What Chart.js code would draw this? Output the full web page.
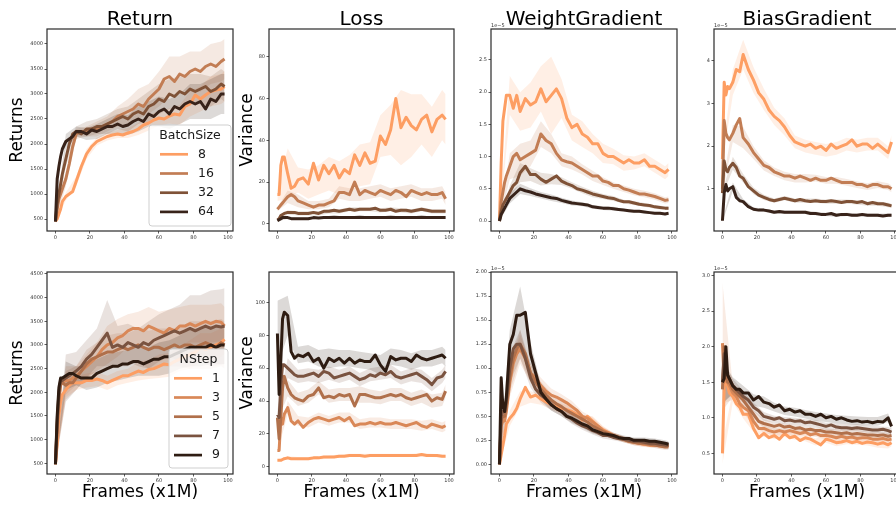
<!DOCTYPE html>
<html>
<head>
<meta charset="utf-8">
<script src="https://cdn.jsdelivr.net/npm/chart.js@4.4.1/dist/chart.umd.min.js"></script>
<style>
  html, body { margin: 0; padding: 0; background: #fff; width: 896px; height: 506px; overflow: hidden; }
  canvas { position: absolute; }
</style>
</head>
<body>
<canvas id="p1" width="229" height="245" style="left:7px;top:0px"></canvas>
<canvas id="p2" width="220" height="245" style="left:237px;top:0px"></canvas>
<canvas id="p3" width="222" height="245" style="left:458px;top:0px"></canvas>
<canvas id="p4" width="222" height="245" style="left:681px;top:0px"></canvas>
<canvas id="p5" width="229" height="253" style="left:7px;top:250px"></canvas>
<canvas id="p6" width="220" height="253" style="left:237px;top:250px"></canvas>
<canvas id="p7" width="222" height="253" style="left:458px;top:250px"></canvas>
<canvas id="p8" width="222" height="253" style="left:681px;top:250px"></canvas>
<script>
// x positions (frames, x1M) of the curves, and of the shaded spread
const frames = [0,1,2,3,4,6,8,10,12,15,18,21,24,27,30,33,36,39,42,45,48,51,54,57,60,63,66,69,72,75,78,81,84,87,90,93,96,98];
const bandFrames = [0,6,12,18,24,30,36,42,48,54,60,66,72,78,84,90,96,98];
const frameTicks = [0,20,40,60,80,100];

const batchSizes = ['8','16','32','64'];
const nSteps = ['1','3','5','7','9'];

// ---- top row: BatchSize ----
const retB8  = [450,500,600,700,850,950,1000,1050,1250,1550,1800,1950,2050,2100,2150,2180,2200,2180,2220,2250,2300,2380,2420,2480,2520,2500,2560,2600,2580,2750,2800,2980,2900,2980,3050,3080,3100,3150];
const retB16 = [450,700,900,1000,1100,1300,1600,1950,2200,2250,2250,2300,2300,2350,2400,2450,2550,2600,2650,2700,2800,2750,2900,3000,3100,3300,3350,3250,3400,3350,3450,3500,3450,3550,3600,3550,3650,3700];
const retB32 = [450,800,1000,1200,1400,1700,2000,2200,2250,2200,2300,2300,2350,2350,2400,2450,2500,2550,2500,2600,2650,2600,2750,2800,2900,2850,3000,2950,3050,3000,3100,3050,3100,3150,3050,3100,3200,3150];
const retB64 = [450,1300,1550,1750,1900,2050,2100,2150,2250,2250,2200,2280,2250,2300,2350,2350,2400,2350,2380,2450,2500,2450,2600,2550,2650,2700,2600,2750,2700,2800,2850,2800,2850,2700,2900,2850,3000,3000];
const retB8Band  = [20,80,100,100,80,80,80,100,120,150,150,150,200,250,250,300,300,300];
const retB16Band = [20,150,100,100,150,150,200,250,300,300,350,400,350,400,400,400,400,400];
const retB32Band = [20,150,100,150,150,200,200,250,250,300,300,300,300,300,300,300,300,300];
const retB64Band = [20,150,100,120,150,150,200,200,250,250,300,300,300,350,350,400,400,400];

const lossB8  = [14,14,28,32,32,24,17,18,21,22,19,29,21,28,24,28,22,26,24,33,28,34,29,30,42,38,45,60,46,51,47,45,50,52,44,50,52,50];
const lossB16 = [7,8,9,10,11,13,14,13,11,10,9,8,9,9,10,11,15,15,14,20,14,16,15,14,16,15,14,16,15,13,16,15,14,15,14,14,15,12];
const lossB32 = [2,2.5,4,4.5,5,5.5,5.5,5.5,5,5,5,5.5,5,6,6,6.5,6,6.5,7,6.5,7,7,7,7.5,6.5,6.5,7,6,6.5,6.5,6,6.5,7,6.5,6,6,6,6];
const lossB64 = [1.5,2,2.5,3,3,3,2.5,2.5,2.5,2.5,2.5,3,2.8,3,3,3.2,3,3,3,3,3.2,3,3,3,3,3,3.2,3,3,3,3,3,3.2,3,3,3,3,3];
const lossB8Band  = [3,12,6,7,7,8,8,9,10,10,10,12,18,15,12,12,12,12];
const lossB16Band = [1,3,3,2,2,2,3,3,3,3,3,3,3,3,3,3,3,3];
const lossB32Band = [0.5,1,1,1,1,1,1,1,1,1,1,1,1,1,1,1,1,1];
const lossB64Band = [0.3,0.5,0.5,0.5,0.5,0.5,0.5,0.5,0.5,0.5,0.5,0.5,0.5,0.5,0.5,0.5,0.5,0.5];

const wgB8  = [0,0.9,1.55,1.75,1.95,1.95,1.75,1.95,1.7,1.9,1.8,1.85,2.05,1.85,1.95,2.05,1.9,1.6,1.45,1.5,1.35,1.3,1.2,1.2,1.05,1.0,1.0,0.95,0.9,0.95,0.9,0.9,0.95,0.85,0.85,0.8,0.75,0.8];
const wgB16 = [0,0.3,0.45,0.6,0.7,0.85,1.0,1.05,0.95,1.0,1.05,1.1,1.35,1.25,1.2,1.05,0.95,0.92,0.9,0.85,0.8,0.75,0.7,0.7,0.62,0.6,0.55,0.55,0.5,0.48,0.45,0.42,0.42,0.4,0.38,0.35,0.32,0.33];
const wgB32 = [0,0.15,0.25,0.3,0.35,0.45,0.55,0.6,0.75,0.85,0.72,0.72,0.65,0.6,0.65,0.7,0.62,0.58,0.55,0.5,0.48,0.45,0.42,0.4,0.38,0.36,0.35,0.32,0.3,0.3,0.28,0.26,0.25,0.24,0.22,0.21,0.2,0.2];
const wgB64 = [0,0.1,0.15,0.2,0.25,0.35,0.4,0.45,0.5,0.47,0.45,0.42,0.4,0.38,0.36,0.35,0.32,0.3,0.28,0.27,0.26,0.25,0.22,0.21,0.2,0.2,0.19,0.18,0.17,0.16,0.15,0.15,0.14,0.13,0.12,0.12,0.11,0.12];
const wgB8Band  = [0,0.3,0.3,0.35,0.35,0.6,0.3,0.2,0.2,0.15,0.15,0.12,0.12,0.1,0.1,0.1,0.1,0.1];
const wgB16Band = [0,0.2,0.25,0.2,0.2,0.15,0.1,0.1,0.08,0.08,0.06,0.05,0.05,0.05,0.05,0.05,0.05,0.05];
const wgB32Band = [0,0.1,0.15,0.1,0.1,0.08,0.06,0.05,0.05,0.05,0.04,0.04,0.03,0.03,0.03,0.03,0.03,0.03];
const wgB64Band = [0,0.08,0.08,0.06,0.05,0.05,0.04,0.04,0.03,0.03,0.03,0.03,0.02,0.02,0.02,0.02,0.02,0.02];

const bgB8  = [1.7,3.5,3.2,3.4,3.35,3.5,3.8,3.75,4.15,3.8,3.55,3.25,3.1,2.85,2.7,2.6,2.45,2.25,2.1,2.05,2.0,2.05,1.95,2.0,1.9,2.05,1.95,2.0,2.05,2.15,2.0,2.05,2.05,1.95,2.05,1.95,1.85,2.1];
const bgB16 = [1.0,2.6,2.3,2.2,2.15,2.3,2.5,2.65,2.2,2.05,1.85,1.7,1.55,1.5,1.4,1.35,1.3,1.3,1.25,1.3,1.25,1.2,1.25,1.2,1.2,1.25,1.2,1.15,1.15,1.15,1.1,1.1,1.05,1.1,1.1,1.05,1.05,1.0];
const bgB32 = [0.9,1.65,1.45,1.4,1.5,1.6,1.5,1.3,1.25,1.05,0.95,0.85,0.8,0.75,0.72,0.75,0.78,0.75,0.72,0.75,0.72,0.7,0.72,0.7,0.7,0.72,0.7,0.68,0.7,0.7,0.68,0.7,0.65,0.68,0.65,0.65,0.62,0.6];
const bgB64 = [0.25,0.9,1.1,0.95,1.0,1.05,0.8,0.72,0.7,0.58,0.52,0.5,0.5,0.48,0.45,0.47,0.45,0.45,0.45,0.45,0.45,0.42,0.42,0.4,0.4,0.42,0.38,0.4,0.4,0.38,0.38,0.4,0.38,0.38,0.38,0.36,0.38,0.38];
const bgB8Band  = [0.1,0.3,0.35,0.3,0.25,0.2,0.2,0.15,0.15,0.15,0.15,0.15,0.15,0.15,0.15,0.15,0.15,0.15];
const bgB16Band = [0.1,0.2,0.25,0.15,0.12,0.1,0.1,0.1,0.1,0.08,0.08,0.08,0.08,0.08,0.08,0.08,0.08,0.08];
const bgB32Band = [0.05,0.15,0.1,0.08,0.06,0.05,0.05,0.05,0.05,0.05,0.05,0.05,0.05,0.05,0.05,0.05,0.05,0.05];
const bgB64Band = [0.03,0.1,0.06,0.04,0.04,0.04,0.04,0.04,0.04,0.04,0.04,0.04,0.04,0.04,0.04,0.04,0.04,0.04];

// ---- bottom row: NStep ----
const retN1 = [480,900,1500,1800,1950,2050,2150,2200,2200,2200,2250,2250,2280,2250,2200,2250,2300,2350,2350,2400,2450,2420,2480,2500,2550,2600,2580,2650,2700,2750,2800,2850,2950,2900,2950,3000,3050,3120];
const retN3 = [480,1200,1800,2150,2200,2250,2250,2300,2350,2450,2550,2650,2750,2900,3000,3050,3150,3200,3300,3350,3350,3300,3400,3350,3300,3250,3350,3300,3400,3400,3450,3400,3450,3500,3450,3500,3480,3400];
const retN5 = [480,1300,1900,2200,2200,2150,2200,2200,2300,2450,2600,2700,2750,2800,2850,2850,2900,2950,2900,2950,3000,2950,2900,2950,2950,2900,2950,3000,2950,3000,3000,2950,3000,3050,3000,2950,3050,3000];
const retN7 = [480,1400,2000,2250,2250,2300,2350,2400,2450,2550,2700,2800,2950,3100,3250,2950,3000,2950,3050,3000,2950,3050,3000,3100,3150,3200,3250,3300,3250,3300,3350,3300,3350,3400,3350,3400,3380,3400];
const retN9 = [480,1500,2100,2300,2300,2350,2400,2400,2350,2300,2300,2300,2400,2450,2500,2550,2550,2600,2600,2650,2650,2600,2650,2700,2700,2750,2750,2800,2850,2900,2950,2950,2950,2950,3000,2950,3000,3000];
const retN1Band = [20,150,150,150,150,150,150,150,200,200,250,250,250,300,300,300,300,300];
const retN3Band = [20,300,200,250,300,400,400,350,350,400,400,400,400,400,400,400,400,400];
const retN5Band = [20,300,250,300,300,350,350,350,350,400,400,400,400,500,500,500,500,500];
const retN7Band = [20,500,400,400,400,700,400,400,400,500,500,500,600,700,700,800,800,800];
const retN9Band = [20,300,200,250,300,300,300,300,300,300,350,350,350,400,400,400,400,400];

const lossN1 = [4,4,4,4.5,5,5.5,5,5,5,5,5,5.5,5.5,6,6,6,6.5,6.5,7,7,7,6.5,7,7,7,7,7,7,7,7,7,7,7.5,7,7,7,6.5,6.5];
const lossN3 = [10,10,30,26,32,36,28,26,28,24,27,29,30,29,28,29,30,28,30,25,26,26,27,26,27,26,26,27,26,25,26,27,25,24,26,25,24,25];
const lossN5 = [30,17,30,48,55,48,44,42,41,40,43,44,48,42,43,42,44,43,44,37,44,44,43,42,42,43,44,43,44,42,41,42,43,44,40,42,41,46];
const lossN7 = [32,30,50,62,62,60,58,56,55,55,56,57,55,58,57,54,55,56,57,55,53,54,56,55,57,56,58,55,54,55,56,57,55,53,50,54,55,58];
const lossN9 = [81,44,65,90,94,92,70,66,68,67,69,64,66,60,66,64,66,63,66,63,65,64,64,68,62,58,67,65,66,66,64,68,66,65,66,67,68,66];
const lossN1Band = [0.5,1,1,1,1,1,1,1,1,1,1,1,1,1,1,1,1,1];
const lossN3Band = [1,4,3,3,3,3,3,3,3,3,3,3,3,3,3,3,3,3];
const lossN5Band = [2,5,4,4,4,4,4,4,5,4,4,4,4,4,4,4,4,4];
const lossN7Band = [3,6,4,4,4,4,4,4,4,4,4,4,4,4,4,4,4,4];
const lossN9Band = [20,12,5,5,5,6,5,5,5,5,6,5,5,5,5,5,5,5];

const wgN1 = [0,0.1,0.2,0.3,0.42,0.48,0.52,0.58,0.68,0.8,0.7,0.72,0.68,0.65,0.62,0.6,0.58,0.57,0.55,0.52,0.46,0.5,0.45,0.4,0.36,0.33,0.3,0.28,0.26,0.25,0.23,0.22,0.21,0.2,0.2,0.19,0.19,0.2];
const wgN3 = [0,0.4,0.45,0.45,0.55,0.85,1.05,1.15,1.2,1.1,0.95,0.9,0.82,0.76,0.72,0.7,0.67,0.64,0.6,0.56,0.5,0.48,0.44,0.4,0.35,0.33,0.3,0.28,0.26,0.24,0.23,0.22,0.21,0.2,0.2,0.2,0.19,0.2];
const wgN5 = [0,0.45,0.5,0.5,0.6,0.9,1.1,1.2,1.25,1.15,0.95,0.85,0.78,0.72,0.67,0.63,0.6,0.56,0.53,0.5,0.47,0.44,0.4,0.37,0.34,0.32,0.3,0.28,0.26,0.24,0.23,0.22,0.22,0.21,0.2,0.19,0.18,0.18];
const wgN7 = [0,0.5,0.55,0.55,0.65,1.0,1.2,1.25,1.25,1.1,0.9,0.78,0.72,0.68,0.62,0.58,0.55,0.5,0.47,0.43,0.4,0.38,0.35,0.33,0.3,0.3,0.28,0.27,0.26,0.25,0.24,0.24,0.23,0.22,0.22,0.21,0.2,0.2];
const wgN9 = [0,0.9,0.6,0.55,0.7,1.25,1.35,1.55,1.55,1.58,1.15,0.95,0.75,0.68,0.62,0.58,0.55,0.5,0.48,0.45,0.42,0.4,0.36,0.34,0.32,0.31,0.3,0.28,0.27,0.27,0.25,0.25,0.25,0.24,0.24,0.23,0.22,0.21];
const wgN1Band = [0,0.08,0.08,0.06,0.06,0.05,0.05,0.05,0.05,0.05,0.04,0.03,0.03,0.03,0.03,0.02,0.02,0.02];
const wgN3Band = [0,0.15,0.15,0.1,0.08,0.07,0.06,0.06,0.05,0.05,0.04,0.03,0.03,0.03,0.03,0.03,0.03,0.03];
const wgN5Band = [0,0.15,0.15,0.1,0.08,0.07,0.06,0.06,0.05,0.05,0.04,0.03,0.03,0.03,0.03,0.03,0.03,0.03];
const wgN7Band = [0,0.15,0.15,0.1,0.08,0.06,0.05,0.05,0.04,0.04,0.03,0.03,0.03,0.03,0.03,0.03,0.03,0.03];
const wgN9Band = [0,0.15,0.3,0.12,0.08,0.06,0.05,0.05,0.04,0.04,0.03,0.03,0.03,0.03,0.03,0.03,0.03,0.03];

const bgN1 = [0.5,1.45,1.5,1.45,1.35,1.3,1.2,1.15,1.05,1.05,0.85,0.72,0.78,0.72,0.75,0.7,0.78,0.72,0.74,0.68,0.72,0.7,0.66,0.62,0.7,0.68,0.65,0.66,0.68,0.65,0.67,0.64,0.66,0.65,0.63,0.65,0.62,0.65];
const bgN3 = [2.05,1.5,1.6,1.5,1.45,1.35,1.3,1.2,1.15,1.1,0.95,0.85,0.85,0.82,0.8,0.82,0.8,0.82,0.8,0.78,0.8,0.76,0.78,0.75,0.75,0.74,0.72,0.74,0.72,0.73,0.71,0.72,0.72,0.7,0.7,0.71,0.69,0.7];
const bgN5 = [1.4,2.0,1.6,1.5,1.5,1.4,1.35,1.3,1.25,1.15,1.05,0.95,0.92,0.9,0.88,0.9,0.87,0.88,0.85,0.86,0.83,0.84,0.82,0.82,0.8,0.8,0.79,0.78,0.79,0.77,0.78,0.77,0.76,0.76,0.75,0.76,0.74,0.75];
const bgN7 = [1.5,1.9,1.7,1.6,1.55,1.45,1.4,1.35,1.3,1.25,1.15,1.1,1.02,1.0,0.98,1.0,0.96,0.97,0.95,0.96,0.93,0.94,0.92,0.9,0.88,0.9,0.87,0.86,0.86,0.85,0.86,0.85,0.84,0.83,0.83,0.84,0.82,0.8];
const bgN9 = [1.5,1.55,2.0,1.6,1.55,1.45,1.4,1.4,1.35,1.35,1.25,1.3,1.22,1.2,1.15,1.18,1.1,1.12,1.08,1.1,1.05,1.05,1.02,1.05,1.0,1.02,0.98,1.0,0.97,0.95,0.96,0.94,0.95,0.93,0.95,0.94,1.0,0.88];
const bgN1Band = [0.15,0.08,0.06,0.05,0.05,0.05,0.05,0.05,0.05,0.05,0.05,0.05,0.05,0.05,0.05,0.05,0.05,0.05];
const bgN3Band = [0.85,0.1,0.08,0.06,0.06,0.05,0.05,0.05,0.05,0.05,0.05,0.05,0.05,0.05,0.05,0.05,0.05,0.05];
const bgN5Band = [0.3,0.1,0.08,0.06,0.06,0.05,0.05,0.05,0.05,0.05,0.05,0.05,0.05,0.05,0.05,0.05,0.05,0.05];
const bgN7Band = [0.3,0.1,0.08,0.06,0.06,0.05,0.05,0.05,0.05,0.05,0.05,0.05,0.05,0.05,0.05,0.05,0.05,0.05];
const bgN9Band = [0.3,0.12,0.1,0.08,0.08,0.06,0.06,0.06,0.06,0.06,0.06,0.06,0.06,0.06,0.06,0.06,0.06,0.06];

// y tick labels
const retTicksTop = [500,1000,1500,2000,2500,3000,3500,4000];
const lossTicksTop = [0,20,40,60,80];
const wgTicksTop = [0,0.5,1,1.5,2,2.5];
const bgTicksTop = [1,2,3,4];
const retTicksBottom = [500,1000,1500,2000,2500,3000,3500,4000,4500];
const lossTicksBottom = [0,20,40,60,80,100];
const wgTicksBottom = [0,0.25,0.5,0.75,1,1.25,1.5,1.75,2];
const bgTicksBottom = [0.5,1,1.5,2,2.5,3];

// styles
const FONT = 'DejaVu Sans';
const batchColors = ['#fd9e63', '#c27d54', '#7f5237', '#38231a'];
const nstepColors = ['#fd9e63', '#d98858', '#b0704b', '#7a5340', '#2e1c12'];

Chart.defaults.font.family = FONT;

function withAlpha(hex, a) {
  const n = parseInt(hex.slice(1), 16);
  return `rgba(${n >> 16},${(n >> 8) & 255},${n & 255},${a})`;
}

// frame, title, offset text and legend drawn on top of each panel
const panelDecor = {
  id: 'panelDecor',
  afterDraw(chart, args, opts) {
    const ctx = chart.ctx, a = chart.chartArea;
    ctx.save();
    ctx.strokeStyle = '#2a2a2a';
    ctx.lineWidth = 1.2;
    ctx.strokeRect(a.left, a.top, a.right - a.left, a.bottom - a.top);
    if (opts.title) {
      ctx.fillStyle = '#000';
      ctx.font = `20px ${FONT}`;
      ctx.textAlign = 'center';
      ctx.textBaseline = 'alphabetic';
      ctx.fillText(opts.title, (a.left + a.right) / 2, a.top - 4);
    }
    if (opts.offset) {
      ctx.fillStyle = '#333';
      ctx.font = `5px ${FONT}`;
      ctx.textAlign = 'left';
      ctx.textBaseline = 'bottom';
      ctx.fillText(opts.offset, a.left, a.top - 1);
    }
    const L = opts.legend;
    if (L) {
      const x0 = a.right - L.right - L.w, y0 = a.bottom - L.bottom - L.h;
      ctx.beginPath();
      if (ctx.roundRect) ctx.roundRect(x0, y0, L.w, L.h, 3); else ctx.rect(x0, y0, L.w, L.h);
      ctx.fillStyle = 'rgba(255,255,255,0.8)';
      ctx.fill();
      ctx.strokeStyle = '#cfcfcf';
      ctx.lineWidth = 1;
      ctx.stroke();
      ctx.fillStyle = '#1a1a1a';
      ctx.font = `12.5px ${FONT}`;
      ctx.textAlign = 'center';
      ctx.textBaseline = 'middle';
      ctx.fillText(L.title, x0 + L.w / 2, y0 + 11);
      ctx.textAlign = 'left';
      L.labels.forEach((lab, i) => {
        const y = y0 + 29.3 + i * 19.2;
        ctx.strokeStyle = L.colors[i];
        ctx.lineWidth = 2.7;
        ctx.beginPath();
        ctx.moveTo(x0 + L.hx, y);
        ctx.lineTo(x0 + L.hx + 28, y);
        ctx.stroke();
        ctx.fillText(lab, x0 + L.hx + 38, y);
      });
    }
    ctx.restore();
  }
};

function buildDatasets(series, colors) {
  const bands = [], lines = [];
  series.forEach((s, i) => {
    const hi = bandFrames.map((f, k) => ({ x: f, y: s.values[frames.indexOf(f)] + s.band[k] }));
    const lo = bandFrames.map((f, k) => ({ x: f, y: s.values[frames.indexOf(f)] - s.band[k] }));
    bands.push({ data: hi, fill: '+1', backgroundColor: withAlpha(colors[i], 0.17),
                 borderWidth: 0, pointRadius: 0, order: 200 - i });
    bands.push({ data: lo, fill: false, borderWidth: 0, pointRadius: 0, order: 200 - i });
    lines.push({ data: frames.map((f, j) => ({ x: f, y: s.values[j] })), borderColor: colors[i],
                 borderWidth: 3, pointRadius: 0, fill: false, tension: 0,
                 borderJoinStyle: 'round', order: 100 - i });
  });
  return bands.concat(lines);
}

function makePanel(id, cfg) {
  const tickGrid = { display: true, drawOnChartArea: false, drawTicks: true,
                     tickLength: 2.5, tickWidth: 0.8, tickColor: '#333' };
  const tickFont = { size: 5, family: FONT };
  new Chart(document.getElementById(id), {
    type: 'line',
    data: { datasets: buildDatasets(cfg.series, cfg.colors) },
    options: {
      responsive: false,
      animation: false,
      layout: { padding: { top: cfg.padTop, right: 3, left: 0, bottom: 0 } },
      plugins: {
        legend: { display: false },
        tooltip: { enabled: false },
        panelDecor: { title: cfg.title, offset: cfg.offset, legend: cfg.legend }
      },
      scales: {
        x: {
          type: 'linear', min: -4.9, max: 102.9,
          afterBuildTicks: s => { s.ticks = frameTicks.map(v => ({ value: v })); },
          afterFit: s => { s.height = cfg.xHeight; },
          grid: tickGrid, border: { display: false },
          ticks: { font: tickFont, color: '#333', padding: 1.5, maxRotation: 0, autoSkip: false,
                   callback: v => String(v) },
          title: { display: !!cfg.xTitle, text: cfg.xTitle || '', color: '#000',
                   font: { size: 17, family: FONT }, padding: { top: 0, bottom: 0 } }
        },
        y: {
          type: 'linear', min: cfg.yMin, max: cfg.yMax,
          afterBuildTicks: s => { s.ticks = cfg.yTicks.map(v => ({ value: v })); },
          afterFit: s => { s.width = cfg.yWidth; },
          grid: tickGrid, border: { display: false },
          ticks: { font: tickFont, color: '#333', padding: 1.5, autoSkip: false,
                   callback: v => Number(v).toFixed(cfg.dec) },
          title: { display: !!cfg.yTitle, text: cfg.yTitle || '', color: '#000',
                   font: { size: 17, family: FONT }, padding: { top: 0, bottom: 0 } }
        }
      }
    },
    plugins: [panelDecor]
  });
}

const batchLegend = { title: 'BatchSize', labels: batchSizes, colors: batchColors,
                      w: 82, h: 101, right: 2, bottom: 5, hx: 11 };
const nstepLegend = { title: 'NStep', labels: nSteps, colors: nstepColors,
                      w: 59, h: 119, right: 5, bottom: 6, hx: 5 };

const topRow = { padTop: 29, xHeight: 14 };
const bottomRow = { padTop: 22, xHeight: 29, xTitle: 'Frames (x1M)' };

makePanel('p1', { ...topRow, title: 'Return', yTitle: 'Returns', yWidth: 40, yMin: 260, yMax: 4300,
  yTicks: retTicksTop, dec: 0, colors: batchColors, legend: batchLegend,
  series: [{ values: retB8, band: retB8Band }, { values: retB16, band: retB16Band },
           { values: retB32, band: retB32Band }, { values: retB64, band: retB64Band }] });
makePanel('p2', { ...topRow, title: 'Loss', yTitle: 'Variance', yWidth: 32, yMin: -3.4, yMax: 93.2,
  yTicks: lossTicksTop, dec: 0, colors: batchColors,
  series: [{ values: lossB8, band: lossB8Band }, { values: lossB16, band: lossB16Band },
           { values: lossB32, band: lossB32Band }, { values: lossB64, band: lossB64Band }] });
makePanel('p3', { ...topRow, title: 'WeightGradient', offset: '1e\u22125', yWidth: 33, yMin: -0.155, yMax: 2.98,
  yTicks: wgTicksTop, dec: 1, colors: batchColors,
  series: [{ values: wgB8, band: wgB8Band }, { values: wgB16, band: wgB16Band },
           { values: wgB32, band: wgB32Band }, { values: wgB64, band: wgB64Band }] });
makePanel('p4', { ...topRow, title: 'BiasGradient', offset: '1e\u22125', yWidth: 33, yMin: 0.01, yMax: 4.75,
  yTicks: bgTicksTop, dec: 0, colors: batchColors,
  series: [{ values: bgB8, band: bgB8Band }, { values: bgB16, band: bgB16Band },
           { values: bgB32, band: bgB32Band }, { values: bgB64, band: bgB64Band }] });

makePanel('p5', { ...bottomRow, yTitle: 'Returns', yWidth: 40, yMin: 274, yMax: 4542,
  yTicks: retTicksBottom, dec: 0, colors: nstepColors, legend: nstepLegend,
  series: [{ values: retN1, band: retN1Band }, { values: retN3, band: retN3Band },
           { values: retN5, band: retN5Band }, { values: retN7, band: retN7Band },
           { values: retN9, band: retN9Band }] });
makePanel('p6', { ...bottomRow, yTitle: 'Variance', yWidth: 32, yMin: -4.3, yMax: 118.4,
  yTicks: lossTicksBottom, dec: 0, colors: nstepColors,
  series: [{ values: lossN1, band: lossN1Band }, { values: lossN3, band: lossN3Band },
           { values: lossN5, band: lossN5Band }, { values: lossN7, band: lossN7Band },
           { values: lossN9, band: lossN9Band }] });
makePanel('p7', { ...bottomRow, offset: '1e\u22125', yWidth: 33, yMin: -0.1, yMax: 2.0,
  yTicks: wgTicksBottom, dec: 2, colors: nstepColors,
  series: [{ values: wgN1, band: wgN1Band }, { values: wgN3, band: wgN3Band },
           { values: wgN5, band: wgN5Band }, { values: wgN7, band: wgN7Band },
           { values: wgN9, band: wgN9Band }] });
makePanel('p8', { ...bottomRow, offset: '1e\u22125', yWidth: 33, yMin: 0.21, yMax: 3.05,
  yTicks: bgTicksBottom, dec: 1, colors: nstepColors,
  series: [{ values: bgN1, band: bgN1Band }, { values: bgN3, band: bgN3Band },
           { values: bgN5, band: bgN5Band }, { values: bgN7, band: bgN7Band },
           { values: bgN9, band: bgN9Band }] });
</script>
</body>
</html>
